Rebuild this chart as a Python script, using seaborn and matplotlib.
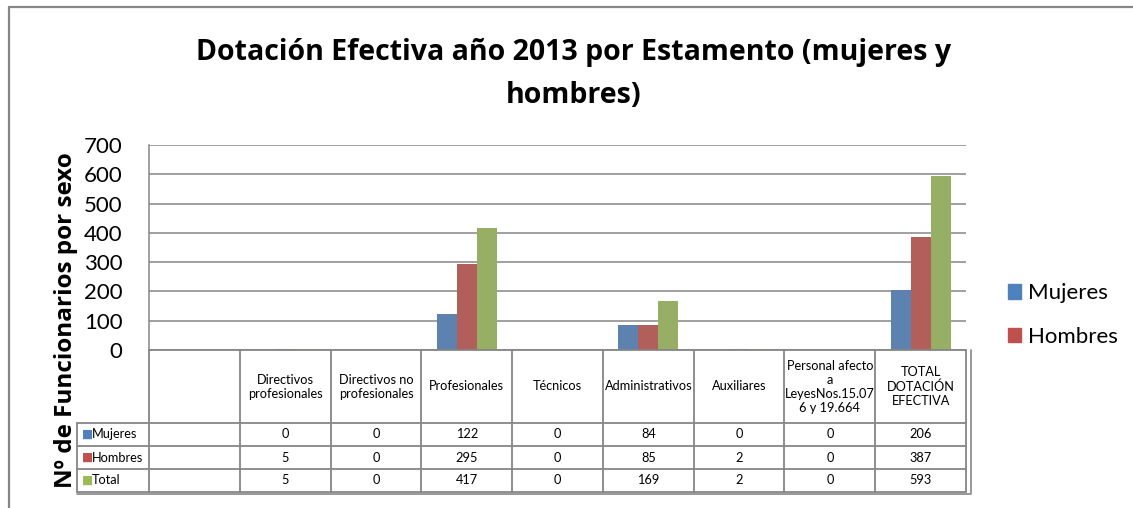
import numpy as np
import pandas as pd
import matplotlib
matplotlib.use("Agg")
import matplotlib.pyplot as plt
import seaborn as sns
from matplotlib.lines import Line2D
from matplotlib.patches import Patch

# Datos del gráfico
categorias = ["", "Directivos\nprofesionales", "Directivos no\nprofesionales", "Profesionales",
              "Técnicos", "Administrativos", "Auxiliares",
              "Personal afecto\na\nLeyesNos.15.07\n6 y 19.664", "TOTAL\nDOTACIÓN\nEFECTIVA"]
series = ["Mujeres", "Hombres", "Total"]
mujeres = [np.nan, 0, 0, 122, 0, 84, 0, 0, 206]
hombres = [np.nan, 5, 0, 295, 0, 85, 2, 0, 387]
total = [np.nan, 5, 0, 417, 0, 169, 2, 0, 593]
colores = ["#4F81BD", "#C0504D", "#9BBB59"]
y_ticks = [0, 100, 200, 300, 400, 500, 600, 700]

# Tabla larga para seaborn
filas = []
for serie, valores in zip(series, [mujeres, hombres, total]):
    for cat, v in zip(categorias, valores):
        filas.append({"categoria": cat, "serie": serie, "valor": v})
tabla = pd.DataFrame(filas)

sns.set_style("white")
plt.rcParams["font.family"] = ["Lato", "DejaVu Sans"]
plt.rcParams["text.color"] = "black"
plt.rcParams["ytick.color"] = "black"
gris = "#868686"

W, H = 1133, 508
fig = plt.figure(figsize=(W / 100, H / 100), dpi=100)

# area del grafico (pixeles de la referencia)
x0, x1, ytop, y0 = 149, 966, 145, 350
ax = fig.add_axes([x0 / W, 1 - y0 / H, (x1 - x0) / W, (y0 - ytop) / H])
sns.barplot(data=tabla.dropna(), x="categoria", y="valor", hue="serie", order=categorias,
            hue_order=series, palette=colores, width=0.66, linewidth=0, ax=ax, legend=False)
ax.set_xlim(-0.5, len(categorias) - 0.5)
ax.set_ylim(0, 700)
ax.set_yticks(y_ticks)
ax.set_yticklabels([str(t) for t in y_ticks], fontsize=16, color="black")
ax.tick_params(axis="y", length=0, pad=19)
ax.set_xticks([])
ax.set_xlabel("")
ax.set_ylabel("")
ax.grid(axis="y", color=gris, linewidth=1.1)
ax.set_axisbelow(True)
for s in ["top", "right", "bottom"]:
    ax.spines[s].set_visible(False)
ax.spines["left"].set_color(gris)
ax.spines["left"].set_linewidth(1.1)

# tabla de datos debajo
yb = 492
axt = fig.add_axes([x0 / W, 1 - yb / H, (x1 - x0) / W, (yb - y0) / H])
axt.set_xlim(-0.5, len(categorias) - 0.5)
axt.set_ylim(yb - y0, 0)
axt.axis("off")
cw = (x1 - x0) / len(categorias)
xl = -0.5 - (x0 - 77) / cw
filas_y = [73, 96, 119, 142]
lw = 1.3
for i in range(len(categorias) + 1):
    axt.plot([i - 0.5, i - 0.5], [0, 142], color=gris, lw=lw, clip_on=False)
axt.plot([xl, xl], [73, 142], color=gris, lw=lw, clip_on=False)
for yy in filas_y:
    axt.plot([xl, len(categorias) - 0.5], [yy, yy], color=gris, lw=lw, clip_on=False)
axt.plot([-0.5, len(categorias) - 0.5], [0, 0], color=gris, lw=lw, clip_on=False)
# borde exterior algo mas grueso (derecha y abajo)
axt.plot([len(categorias) - 0.45, len(categorias) - 0.45], [0, 143], color=gris, lw=1.2, clip_on=False)
axt.plot([xl, len(categorias) - 0.45], [143.5, 143.5], color=gris, lw=1.2, clip_on=False)

for i, cat in enumerate(categorias):
    axt.text(i, 36.5, cat, ha="center", va="center", fontsize=9.2, linespacing=1.2)

for j, (serie, valores) in enumerate(zip(series, [mujeres, hombres, total])):
    yc = (filas_y[j] + filas_y[j + 1]) / 2
    axt.text(xl + 0.05, yc, "■", color=colores[j], ha="left", va="center", fontsize=8.5,
             family=["DejaVu Sans"], clip_on=False)
    axt.text(xl + 0.16, yc, serie, ha="left", va="center", fontsize=9.2, clip_on=False)
    for i, v in enumerate(valores):
        if not np.isnan(v):
            axt.text(i, yc, f"{int(v)}", ha="center", va="center", fontsize=9.2)

# titulo y etiqueta del eje
fig.text(574 / W, 1 - 74 / H, "Dotación Efectiva año 2013 por Estamento (mujeres y\nhombres)",
         ha="center", va="center", fontsize=20.5, fontweight="bold", linespacing=1.6,
         family=["Open Sans", "DejaVu Sans"])
fig.text(66 / W, 1 - 320 / H, "Nº de Funcionarios por sexo", rotation=90, ha="center",
         va="center", fontsize=17.5, fontweight="bold", family=["Open Sans", "DejaVu Sans"])

# leyenda (solo Mujeres y Hombres visibles)
handles = [Patch(color=colores[0]), Patch(color=colores[1])]
fig.legend(handles, series[:2], loc="center left", bbox_to_anchor=(997 / W, 1 - 315 / H),
           frameon=False, fontsize=16, handlelength=0.6, handleheight=0.6,
           handletextpad=0.3, labelspacing=1.05, borderpad=0)

# borde del area del grafico
fig.add_artist(Line2D([9 / W, 1], [1 - 7 / H, 1 - 7 / H], color=gris, lw=1.6))
fig.add_artist(Line2D([9 / W, 9 / W], [0, 1 - 7 / H], color=gris, lw=1.6))

fig.savefig("out.png", dpi=100)
